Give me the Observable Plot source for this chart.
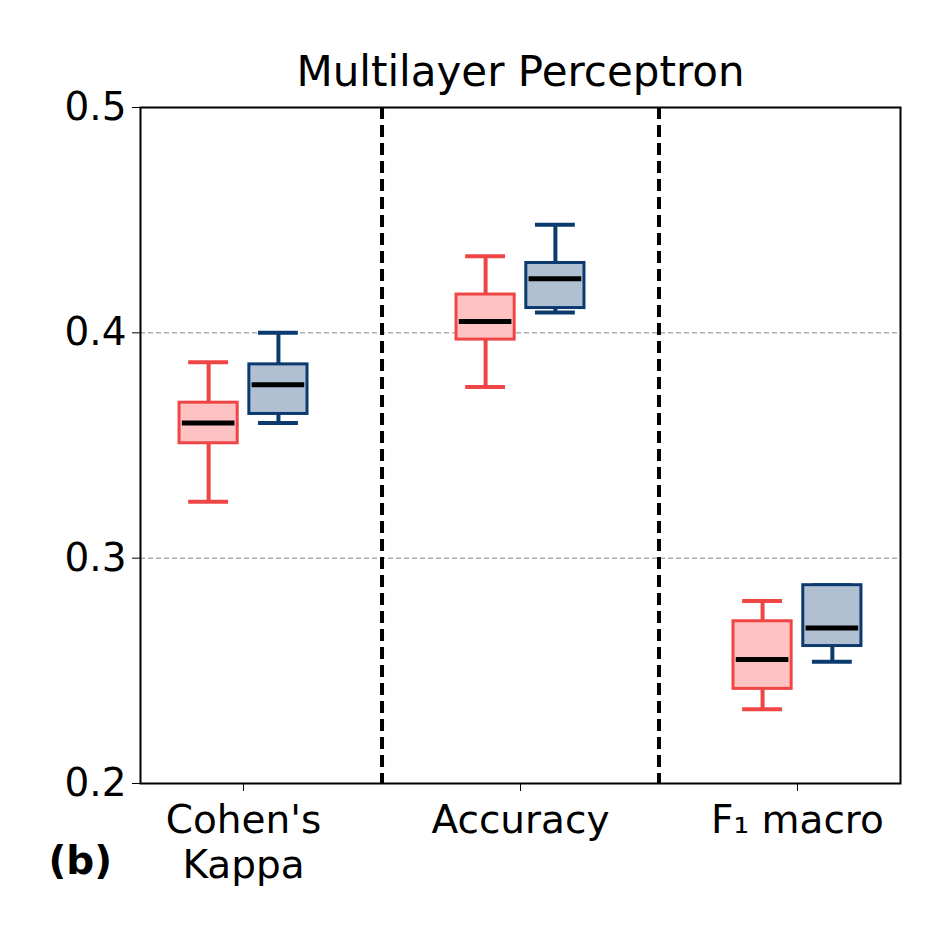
<!DOCTYPE html>
<html><head>
<meta charset="utf-8">
<script src="https://cdn.jsdelivr.net/npm/d3@7"></script>
<script src="https://cdn.jsdelivr.net/npm/@observablehq/plot@0.6"></script>
<style>body{margin:0;background:#fff}</style>
</head><body><div id="chart"></div>
<script>
const metrics = ["Cohen's\nKappa", "Accuracy", "F₁ macro"];
const groups = ["red", "blue"];
// per metric: [red, blue]
const lows    = [[0.325, 0.360], [0.376, 0.409], [0.233, 0.254]];
const q1s     = [[0.351, 0.364], [0.397, 0.411], [0.242, 0.261]];
const medians = [[0.360, 0.377], [0.405, 0.424], [0.255, 0.269]];
const q3s     = [[0.369, 0.386], [0.417, 0.431], [0.272, 0.288]];
const highs   = [[0.387, 0.400], [0.434, 0.448], [0.281, 0.288]];

const stroke = {red: "#f04545", blue: "#0b3a6e"};
const fill = {red: "#ffc2c2", blue: "#b0c0d2"};
const offset = {red: -0.126, blue: 0.126};

const boxes = [];
metrics.forEach((m, i) => groups.forEach((g, j) => {
  const c = i + offset[g];
  boxes.push({c, g, low: lows[i][j], q1: q1s[i][j], med: medians[i][j], q3: q3s[i][j], high: highs[i][j]});
}));

const hw = 0.105, cw = 0.072;
const chart = Plot.plot({
  width: 944, height: 944,
  marginTop: 107, marginBottom: 161, marginLeft: 140, marginRight: 44,
  style: {fontFamily: "DejaVu Sans", fontSize: "39px", color: "black"},
  x: {domain: [-0.372, 2.372]},
  y: {domain: [0.2, 0.5]},
  marks: [
    Plot.ruleY([0.3, 0.4], {stroke: "#b0b0b0", strokeWidth: 1.5, strokeDasharray: "5,3"}),
    Plot.ruleX([0.5, 1.5], {stroke: "black", strokeWidth: 4, strokeDasharray: "12,6"}),
    Plot.ruleX(boxes, {x: "c", y1: "low", y2: "q1", stroke: d => stroke[d.g], strokeWidth: 4}),
    Plot.ruleX(boxes, {x: "c", y1: "q3", y2: "high", stroke: d => stroke[d.g], strokeWidth: 4}),
    Plot.ruleY(boxes, {y: "low", x1: d => d.c - cw, x2: d => d.c + cw, stroke: d => stroke[d.g], strokeWidth: 4}),
    Plot.ruleY(boxes, {y: "high", x1: d => d.c - cw, x2: d => d.c + cw, stroke: d => stroke[d.g], strokeWidth: 4}),
    Plot.rect(boxes, {x1: d => d.c - hw, x2: d => d.c + hw, y1: "q1", y2: "q3", fill: d => fill[d.g], stroke: d => stroke[d.g], strokeWidth: 3}),
    Plot.ruleY(boxes, {y: "med", x1: d => d.c - hw + 0.01, x2: d => d.c + hw - 0.01, stroke: "black", strokeWidth: 5}),
    Plot.frame({stroke: "black", strokeWidth: 2}),
    Plot.axisY({ticks: [0.2, 0.3, 0.4, 0.5], tickFormat: d3.format(".1f"), tickSize: 8, tickPadding: 6, label: null, tickWidth: 2}),
    Plot.axisX({ticks: [0, 1, 2], tickFormat: i => metrics[i], tickSize: 8, tickPadding: 10, label: null, lineHeight: 1.15}),
    Plot.text(["Multilayer Perceptron"], {frameAnchor: "top", lineAnchor: "bottom", dy: -22, fontSize: 42}),
    Plot.text(["(b)"], {frameAnchor: "bottom-left", textAnchor: "start", dx: -92, dy: 90, fontWeight: "bold", fontSize: 39})
  ]
});
document.getElementById("chart").append(chart);
</script>
</body></html>
